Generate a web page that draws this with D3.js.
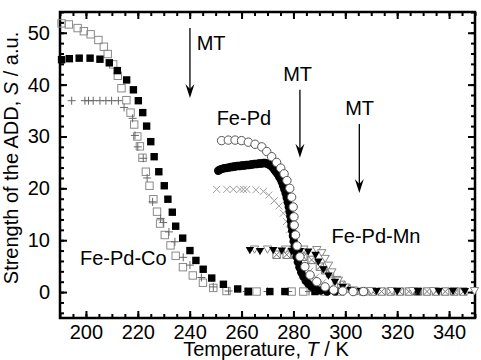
<!DOCTYPE html>
<html>
<head>
<meta charset="utf-8">
<script src="https://cdn.jsdelivr.net/npm/d3@7"></script>
<style>
  body { margin: 0; background: #fff; }
  text { font-family: "Liberation Sans", Arial, sans-serif; }
</style>
</head>
<body>
<script>
// Fe-Pd-Co, open squares
const coOpen = [
  [190.6, 51.8], [193.4, 51.6], [196.8, 50.9], [199.2, 50.3], [201.8, 49.7], [204.8, 48.6],
  [206.9, 47.3], [208.4, 45.9], [210.5, 43.9], [212.3, 41.7], [213.7, 39.3], [215.6, 37.0],
  [217.2, 34.6], [218.6, 32.3], [219.8, 30.0], [220.8, 28.1], [221.8, 25.9], [223.1, 23.2],
  [224.5, 20.5], [226.0, 17.9], [227.4, 15.5], [228.6, 13.2], [230.4, 11.0], [232.6, 9.0],
  [234.6, 7.0], [237.4, 4.8], [241.2, 3.2], [245.1, 1.8], [249.1, 0.8], [254.2, 0.2],
  [262.6, 0.1], [265.8, 0.1], [279.3, 0.1], [283.8, 0.1], [292, 0.1], [298, 0.1]
];
// Fe-Pd-Co, filled squares
const coFill = [
  [190.6, 44.8], [193.6, 45.0], [197.4, 45.1], [201.6, 45.1], [205.4, 44.9], [209.0, 44.2],
  [212.1, 42.7], [215.7, 40.9], [218.3, 39.0], [220.2, 36.9], [221.9, 34.6], [223.4, 32.0],
  [225.0, 29.0], [226.3, 26.1], [228.1, 23.2], [230.2, 20.5], [231.6, 17.9], [233.3, 15.4],
  [234.6, 12.7], [237.3, 10.4], [240.1, 8.0], [242.4, 6.1], [245.2, 4.4], [248.5, 2.7],
  [253.0, 1.5], [258.5, 0.6], [262.6, 0.1], [270.9, 0.1], [276.7, 0.1], [288.3, 0.1],
  [327.6, 0.1]
];
// Fe-Pd-Co, plus signs
const coPlus = [
  [194.5, 36.9], [199.6, 36.9], [201.0, 36.9], [202.8, 36.9], [205.4, 36.9], [207.7, 36.9],
  [209.9, 36.9], [212.5, 36.9], [214.7, 35.6], [218.0, 33.5], [218.9, 30.2], [220.0, 28.0],
  [222.1, 25.8], [223.6, 22.0], [225.7, 17.4], [228.8, 14.2], [229.8, 13.4], [232.0, 11.6],
  [234.3, 9.7], [237.5, 6.7], [240.1, 5.2], [244.5, 2.8], [249.1, 1.0], [255, 0.2],
  [262, 0.1], [270, 0.1], [278, 0.1], [286, 0.1]
];
// Fe-Pd, open circles
const pdOpen = [
  [252.3, 29.2], [254.9, 29.3], [257.5, 29.3], [260.0, 29.2], [262.6, 28.9], [265.2, 28.5],
  [267.8, 28.0], [269.7, 27.1], [271.6, 26.1], [273.5, 25.0], [275.1, 23.9], [276.4, 22.8],
  [277.5, 21.5], [278.6, 20.0], [279.3, 18.3], [279.9, 16.4], [280.2, 14.5], [280.3, 12.9],
  [280.8, 11.0], [281.4, 8.9], [282.5, 6.8], [284.4, 4.9], [286.4, 3.3], [289.0, 2.0],
  [292.2, 1.0], [295.5, 0.4], [299, 0.2], [303, 0.1], [307, 0.1]
];
// Fe-Pd, filled circles
const pdFill = [
  [251.0, 23.4], [251.6, 23.6], [252.2, 23.7], [252.8, 23.8], [253.4, 23.9], [254.0, 23.9],
  [254.6, 24.0], [255.2, 24.0], [255.8, 24.1], [256.4, 24.1], [257.0, 24.2], [257.6, 24.2],
  [258.2, 24.3], [258.8, 24.3], [259.4, 24.3], [260.0, 24.4], [260.6, 24.4], [261.2, 24.4],
  [261.8, 24.5], [262.4, 24.5], [263.0, 24.5], [263.6, 24.6], [264.2, 24.6], [264.8, 24.7],
  [265.4, 24.7], [266.0, 24.7], [266.6, 24.8], [267.2, 24.8], [267.8, 24.8], [268.4, 24.9],
  [269.0, 24.9], [269.6, 24.8], [270.2, 24.7], [270.8, 24.5], [271.4, 24.3], [272.0, 24.0],
  [272.6, 23.6], [273.2, 23.2], [273.8, 22.8], [274.4, 22.3], [275.0, 21.8], [275.5, 21.2],
  [276.0, 20.5], [276.5, 19.8], [277.0, 19.0], [277.4, 18.2], [277.8, 17.3], [278.2, 16.4],
  [278.5, 15.5], [278.8, 14.6], [279.0, 13.7], [279.2, 12.8], [279.5, 11.8], [279.8, 10.8],
  [280.1, 9.8], [280.4, 8.8], [280.8, 7.8], [281.2, 6.8], [281.7, 5.8], [282.3, 4.8],
  [283.0, 3.8], [283.8, 3.0], [284.7, 2.2], [285.7, 1.6], [287.0, 1.0], [288.5, 0.6],
  [290.5, 0.3], [293, 0.1], [296, 0.1]
];
// Fe-Pd, crosses
const pdCross = [
  [250.4, 19.8], [254.3, 19.8], [256.8, 19.8], [259.4, 19.8], [260.7, 19.8], [262.0, 19.8],
  [265.5, 19.7], [268.4, 19.4], [270.5, 18.7], [272.6, 17.6], [274.4, 16.6], [276.1, 15.2],
  [277.3, 13.6], [278.5, 12.0], [279.8, 10.2], [281.2, 8.4], [282.8, 6.6], [284.5, 5.2],
  [286.2, 4.0], [288.6, 2.9], [291.2, 1.8], [294.2, 0.9], [297.5, 0.3]
];
// Fe-Pd-Mn, filled down triangles
const mnFill = [
  [263.2, 8.1], [267.1, 7.9], [272.2, 8.1], [275.5, 8.0], [279.3, 7.9], [282.5, 7.9],
  [285.7, 7.8], [288.5, 7.2], [289.6, 5.9], [291.5, 4.4], [293.5, 3.2], [296, 2.0],
  [299, 1.0], [302, 0.4], [306, 0.2], [312, 0.2], [320, 0.2], [328, 0.2], [336, 0.2],
  [341.5, 0.2], [346.1, 0.2]
];
// Fe-Pd-Mn, open down triangles
const mnOpen = [
  [265, 8.3], [270, 8.3], [277, 8.3], [284, 8.3], [289, 8.2], [290.9, 7.6], [292.2, 6.5],
  [293.5, 5.2], [294.8, 3.9], [297.3, 2.3], [299.9, 1.0], [303, 0.4], [310, 0.3],
  [318, 0.3], [326, 0.3], [334, 0.3], [342, 0.3], [349.8, 0.3]
];
// Fe-Pd-Mn, boxed crosses
const mnBox = [
  [273.5, 7.2], [277.4, 7.2], [280.6, 7.2], [283.8, 6.8], [287.0, 6.2], [290.2, 4.9],
  [292.2, 4.2], [294.1, 3.6], [296.7, 2.3], [298.5, 1.4], [300.5, 0.7], [303.5, 0.2],
  [307, 0.1], [310.5, 0.1], [314, 0.1], [317.5, 0.1], [321, 0.1], [324.5, 0.1], [328, 0.1],
  [331.5, 0.1], [335, 0.1], [338.5, 0.1], [342, 0.1], [345.5, 0.1]
];

const xTicks = [200, 220, 240, 260, 280, 300, 320, 340];
const yTicks = [0, 10, 20, 30, 40, 50];

// MT arrows: temperature, start S, end S
const arrows = [[240.1, 50.9, 37.4], [282.5, 39.0, 25.9], [305.4, 32.4, 19.1]];
const notes = [
  { t: 242.7, s: 46.7, text: "MT", anchor: "start" },
  { t: 281.6, s: 40.6, text: "MT", anchor: "middle" },
  { t: 305.5, s: 34.2, text: "MT", anchor: "middle" },
  { t: 250.4, s: 32.2, text: "Fe-Pd", anchor: "start" },
  { t: 197.7, s: 5.2, text: "Fe-Pd-Co", anchor: "start" },
  { t: 294.7, s: 9.4, text: "Fe-Pd-Mn", anchor: "start" }
];

const width = 481, height = 360;
const svg = d3.select("body").append("svg")
  .attr("width", width)
  .attr("height", height);

const x = d3.scaleLinear().domain([190, 350]).range([60, 475]);
const y = d3.scaleLinear().domain([-5, 54]).range([318, 12]);

// axes, ticks pointing inward on all four sides
function clean(g) {
  g.select(".domain").remove();
  g.selectAll("line").attr("stroke", "#000").attr("stroke-width", 2);
  g.selectAll("text").attr("font-size", 20).attr("fill", "#000")
    .style("font-family", '"Liberation Sans", Arial, sans-serif');
}
const minorX = d3.range(190, 351, 5);
const minorY = d3.range(-4, 55, 2);

svg.append("g").attr("transform", "translate(0,318)")
  .call(d3.axisBottom(x).tickValues(minorX).tickSize(-4).tickFormat("")).call(clean);
svg.append("g").attr("transform", "translate(0,318)")
  .call(d3.axisBottom(x).tickValues(xTicks).tickSize(-7).tickPadding(7)).call(clean);
svg.append("g").attr("transform", "translate(0,12)")
  .call(d3.axisTop(x).tickValues(minorX).tickSize(-4).tickFormat("")).call(clean);
svg.append("g").attr("transform", "translate(0,12)")
  .call(d3.axisTop(x).tickValues(xTicks).tickSize(-7).tickFormat("")).call(clean);
svg.append("g").attr("transform", "translate(60,0)")
  .call(d3.axisLeft(y).tickValues(minorY).tickSize(-4).tickFormat("")).call(clean);
svg.append("g").attr("transform", "translate(60,0)")
  .call(d3.axisLeft(y).tickValues(yTicks).tickSize(-7).tickPadding(10)).call(clean);
svg.append("g").attr("transform", "translate(475,0)")
  .call(d3.axisRight(y).tickValues(minorY).tickSize(-4).tickFormat("")).call(clean);
svg.append("g").attr("transform", "translate(475,0)")
  .call(d3.axisRight(y).tickValues(yTicks).tickSize(-7).tickFormat("")).call(clean);

svg.append("rect")
  .attr("x", 60).attr("y", 12)
  .attr("width", 415).attr("height", 306)
  .attr("fill", "none").attr("stroke", "#000").attr("stroke-width", 2.5);

// marker helpers
function points(data, cls) {
  return svg.append("g").selectAll("." + cls).data(data).enter()
    .append("g").attr("class", cls)
    .attr("transform", d => `translate(${x(d[0])},${y(d[1])})`);
}

points(coOpen, "co-open").append("rect")
  .attr("x", -3.7).attr("y", -3.7).attr("width", 7.4).attr("height", 7.4)
  .attr("fill", "none").attr("stroke", "#8a8a8a").attr("stroke-width", 1);

points(coPlus, "co-plus").append("path")
  .attr("d", "M-4,0H4M0,-4V4")
  .attr("stroke", "#666").attr("stroke-width", 1);

points(coFill, "co-fill").append("rect")
  .attr("x", -3.7).attr("y", -3.7).attr("width", 7.4).attr("height", 7.4)
  .attr("fill", "#000");

points(pdCross, "pd-cross").append("path")
  .attr("d", "M-3.5,-3.5L3.5,3.5M-3.5,3.5L3.5,-3.5")
  .attr("stroke", "#a0a0a0").attr("stroke-width", 1);

points(mnBox, "mn-box").append("path")
  .attr("d", "M-3.7,-3.7H3.7V3.7H-3.7ZM-3.7,-3.7L3.7,3.7M-3.7,3.7L3.7,-3.7")
  .attr("fill", "none").attr("stroke", "#777").attr("stroke-width", 1);

points(mnOpen, "mn-open").append("path")
  .attr("d", "M-4.2,-3L4.2,-3L0,4.2Z")
  .attr("fill", "#fff").attr("stroke", "#888").attr("stroke-width", 1);

points(mnFill, "mn-fill").append("path")
  .attr("d", "M-4.2,-3L4.2,-3L0,4.2Z")
  .attr("fill", "#000");

points(pdFill, "pd-fill").append("circle")
  .attr("r", 4.2).attr("fill", "#000");

points(pdOpen, "pd-open").append("circle")
  .attr("r", 4.2).attr("fill", "#fff").attr("stroke", "#555").attr("stroke-width", 1);

// MT arrows
arrows.forEach(a => {
  const ax = x(a[0]), y1 = y(a[1]), y2 = y(a[2]);
  svg.append("line")
    .attr("x1", ax).attr("x2", ax).attr("y1", y1).attr("y2", y2 - 6)
    .attr("stroke", "#000").attr("stroke-width", 1.3);
  svg.append("path")
    .attr("d", `M${ax},${y2}L${ax - 4.5},${y2 - 14}L${ax},${y2 - 9}L${ax + 4.5},${y2 - 14}Z`)
    .attr("fill", "#000");
});

svg.selectAll(".note").data(notes).enter().append("text")
  .attr("class", "note")
  .attr("x", d => x(d.t))
  .attr("y", d => y(d.s))
  .attr("text-anchor", d => d.anchor)
  .attr("font-size", 20)
  .text(d => d.text);

// axis titles
const xl = svg.append("text")
  .attr("x", 266).attr("y", 356)
  .attr("text-anchor", "middle")
  .attr("font-size", 20);
xl.append("tspan").text("Temperature, ");
xl.append("tspan").attr("font-style", "italic").text("T");
xl.append("tspan").text(" / K");

const yl = svg.append("text")
  .attr("transform", "translate(18,158) rotate(-90)")
  .attr("text-anchor", "middle")
  .attr("font-size", 20);
yl.append("tspan").text("Strength of the ADD, ");
yl.append("tspan").attr("font-style", "italic").text("S");
yl.append("tspan").text(" / a.u.");
</script>
</body>
</html>
